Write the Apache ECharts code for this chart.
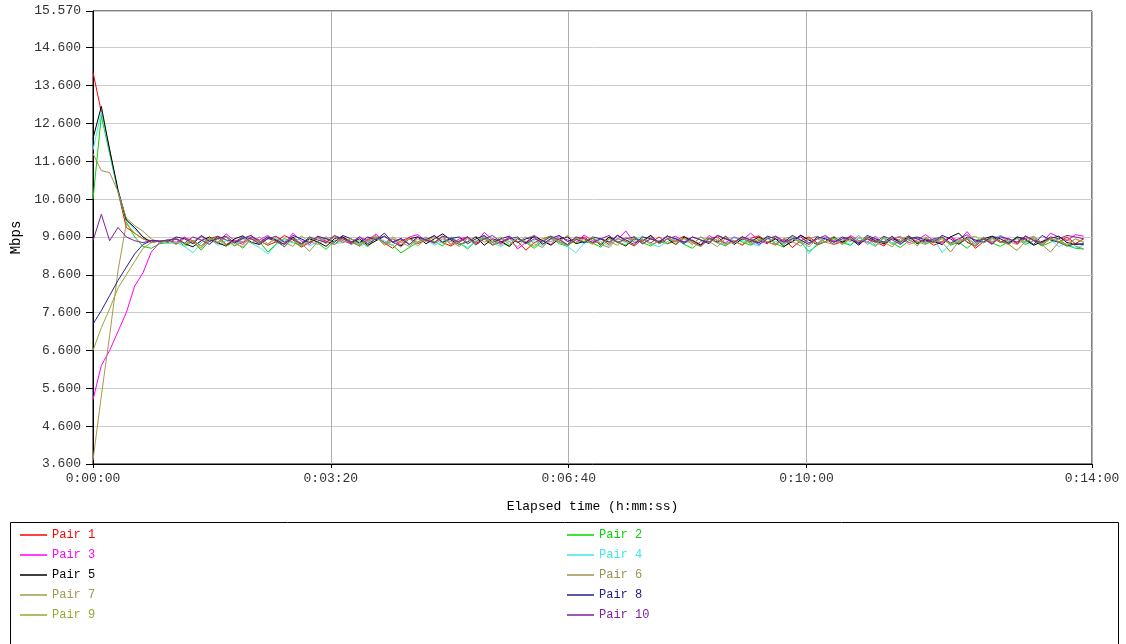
<!DOCTYPE html>
<html>
<head>
<meta charset="utf-8">
<script src="https://cdn.jsdelivr.net/npm/echarts@6/dist/echarts.min.js"></script>
<style>html,body{margin:0;padding:0;background:#fff;}#c{width:1126px;height:644px;}</style>
</head>
<body>
<div id="c"></div>
<script>
// sample step (seconds) of the throughput measurements
const sampleStep = 7;
const pairNames = ['Pair 1','Pair 2','Pair 3','Pair 4','Pair 5','Pair 6','Pair 7','Pair 8','Pair 9','Pair 10'];
const pairColors = ['#ff0000','#00d800','#ff00ff','#40e8e8','#000000','#a09050','#a89848','#202090','#98a830','#8020a0'];
const xTickValues = [0,200,400,600,840];

const pair1 = [13.95,12.9,11.9,10.8,9.85,9.7,9.55,9.5,9.48,9.52,
9.42,9.58,9.5,9.36,9.55,9.62,9.4,9.52,9.45,9.6,
9.5,9.38,9.47,9.64,9.52,9.33,9.45,9.58,9.49,9.4,
9.6,9.48,9.37,9.54,9.6,9.44,9.3,9.5,9.58,9.42,
9.52,9.63,9.45,9.36,9.5,9.6,9.43,9.55,9.38,9.47,
9.58,9.48,9.25,9.45,9.55,9.62,9.47,9.38,9.52,9.6,
9.44,9.55,9.4,9.65,9.48,9.36,9.54,9.44,9.6,9.42,
9.5,9.62,9.45,9.35,9.55,9.6,9.42,9.5,9.38,9.56,
9.63,9.46,9.4,9.55,9.32,9.5,9.6,9.44,9.55,9.4,
9.48,9.6,9.42,9.55,9.47,9.36,9.58,9.5,9.63,9.44,
9.52,9.38,9.48,9.6,9.42,9.55,9.3,9.48,9.58,9.45,
9.55,9.42,9.62,9.5,9.38,9.56,9.46,9.6,9.42,9.55];

const pair2 = [10.6,12.8,11.8,10.8,10.0,9.6,9.35,9.3,9.42,9.45,
9.55,9.35,9.48,9.25,9.5,9.6,9.38,9.47,9.3,9.55,
9.48,9.2,9.42,9.56,9.46,9.36,9.6,9.44,9.27,9.5,
9.56,9.4,9.5,9.34,9.58,9.45,9.38,9.18,9.32,9.46,
9.55,9.48,9.36,9.6,9.45,9.28,9.5,9.57,9.4,9.47,
9.36,9.55,9.45,9.3,9.5,9.6,9.42,9.35,9.55,9.46,
9.44,9.33,9.56,9.48,9.38,9.62,9.45,9.36,9.5,9.42,
9.56,9.4,9.3,9.48,9.58,9.45,9.36,9.6,9.46,9.38,
9.5,9.57,9.42,9.33,9.55,9.46,9.22,9.38,9.48,9.56,
9.45,9.38,9.58,9.47,9.35,9.6,9.44,9.32,9.5,9.57,
9.42,9.48,9.58,9.38,9.46,9.3,9.5,9.58,9.44,9.35,
9.48,9.56,9.4,9.5,9.36,9.46,9.55,9.38,9.3,9.28];

const pair3 = [5.3,6.2,6.6,7.1,7.6,8.3,8.65,9.2,9.45,9.5,
9.46,9.6,9.42,9.62,9.52,9.45,9.68,9.5,9.4,9.6,
9.52,9.64,9.46,9.42,9.7,9.5,9.4,9.6,9.46,9.62,
9.5,9.42,9.6,9.5,9.68,9.45,9.55,9.38,9.6,9.66,
9.5,9.44,9.62,9.4,9.55,9.6,9.45,9.72,9.52,9.42,
9.6,9.28,9.46,9.64,9.5,9.4,9.62,9.52,9.45,9.65,
9.5,9.42,9.6,9.52,9.76,9.45,9.5,9.64,9.44,9.55,
9.62,9.46,9.52,9.4,9.64,9.5,9.45,9.6,9.52,9.7,
9.5,9.42,9.62,9.5,9.46,9.65,9.52,9.4,9.6,9.5,
9.44,9.64,9.5,9.46,9.62,9.4,9.55,9.6,9.45,9.52,
9.66,9.5,9.44,9.6,9.5,9.74,9.46,9.55,9.4,9.64,
9.52,9.46,9.62,9.5,9.44,9.7,9.6,9.5,9.66,9.62];

const pair4 = [11.9,12.9,11.85,10.8,10.05,9.8,9.6,9.45,9.5,9.42,
9.46,9.35,9.18,9.45,9.55,9.38,9.5,9.36,9.55,9.44,
9.32,9.15,9.4,9.52,9.44,9.58,9.36,9.48,9.6,9.42,
9.45,9.56,9.35,9.44,9.6,9.5,9.38,9.56,9.42,9.46,
9.56,9.38,9.48,9.58,9.44,9.32,9.5,9.6,9.44,9.35,
9.48,9.58,9.42,9.5,9.36,9.55,9.46,9.35,9.18,9.44,
9.56,9.48,9.36,9.58,9.44,9.5,9.62,9.42,9.34,9.48,
9.58,9.44,9.5,9.38,9.56,9.45,9.4,9.58,9.5,9.44,
9.36,9.56,9.48,9.42,9.6,9.5,9.16,9.44,9.56,9.46,
9.5,9.4,9.58,9.47,9.36,9.56,9.44,9.5,9.6,9.42,
9.47,9.56,9.18,9.44,9.5,9.58,9.42,9.48,9.56,9.64,
9.48,9.58,9.42,9.6,9.46,9.55,9.34,9.45,9.3,9.38];

const pair5 = [12.2,13.05,11.9,10.85,10.05,9.85,9.6,9.45,9.5,9.47,
9.55,9.42,9.34,9.5,9.6,9.44,9.36,9.55,9.63,9.46,
9.4,9.56,9.5,9.34,9.6,9.42,9.55,9.47,9.35,9.55,
9.6,9.44,9.55,9.38,9.5,9.62,9.46,9.36,9.55,9.6,
9.42,9.55,9.68,9.52,9.4,9.47,9.6,9.38,9.55,9.48,
9.35,9.56,9.44,9.62,9.5,9.38,9.55,9.6,9.42,9.48,
9.56,9.38,9.6,9.46,9.36,9.55,9.48,9.64,9.42,9.55,
9.4,9.6,9.5,9.38,9.56,9.46,9.62,9.4,9.55,9.48,
9.6,9.44,9.55,9.35,9.48,9.64,9.52,9.4,9.48,9.6,
9.46,9.55,9.38,9.6,9.5,9.42,9.56,9.46,9.62,9.42,
9.55,9.48,9.4,9.6,9.7,9.46,9.36,9.55,9.62,9.48,
9.42,9.6,9.52,9.38,9.48,9.56,9.62,9.45,9.4,9.42];

const pair6 = [11.8,11.35,11.3,10.8,10.1,9.9,9.75,9.55,9.45,9.5,
9.4,9.56,9.46,9.3,9.55,9.42,9.6,9.36,9.48,9.56,
9.42,9.6,9.48,9.34,9.56,9.44,9.22,9.48,9.6,9.4,
9.55,9.46,9.36,9.56,9.64,9.42,9.48,9.33,9.55,9.46,
9.6,9.42,9.55,9.48,9.35,9.56,9.46,9.62,9.4,9.55,
9.48,9.34,9.56,9.64,9.42,9.48,9.56,9.38,9.6,9.46,
9.55,9.4,9.32,9.56,9.48,9.6,9.42,9.55,9.46,9.64,
9.4,9.56,9.48,9.35,9.56,9.44,9.6,9.48,9.4,9.55,
9.46,9.6,9.42,9.55,9.48,9.36,9.55,9.62,9.46,9.4,
9.55,9.48,9.64,9.4,9.55,9.46,9.34,9.56,9.6,9.48,
9.4,9.55,9.46,9.2,9.48,9.56,9.4,9.6,9.48,9.55,
9.4,9.24,9.48,9.56,9.4,9.2,9.46,9.55,9.36,9.28];

const pair7 = [3.7,5.4,7.0,8.7,9.95,9.7,9.55,9.45,9.5,9.47,
9.56,9.4,9.48,9.6,9.42,9.55,9.35,9.48,9.58,9.44,
9.6,9.42,9.55,9.46,9.35,9.63,9.48,9.4,9.56,9.6,
9.44,9.56,9.4,9.48,9.6,9.38,9.55,9.46,9.35,9.55,
9.48,9.6,9.44,9.56,9.4,9.48,9.62,9.46,9.55,9.38,
9.56,9.46,9.6,9.42,9.32,9.55,9.48,9.64,9.44,9.56,
9.4,9.56,9.48,9.38,9.6,9.46,9.55,9.4,9.48,9.62,
9.46,9.56,9.4,9.6,9.48,9.34,9.56,9.46,9.62,9.4,
9.55,9.48,9.38,9.56,9.6,9.44,9.56,9.4,9.48,9.55,
9.4,9.6,9.46,9.56,9.38,9.48,9.56,9.62,9.4,9.48,
9.55,9.44,9.6,9.4,9.56,9.48,9.36,9.56,9.46,9.6,
9.48,9.4,9.55,9.62,9.44,9.56,9.48,9.4,9.55,9.46];

const pair8 = [7.3,7.65,8.05,8.45,8.8,9.15,9.4,9.5,9.5,9.48,
9.6,9.55,9.42,9.64,9.48,9.56,9.62,9.44,9.56,9.64,
9.46,9.6,9.52,9.4,9.64,9.55,9.45,9.62,9.55,9.46,
9.64,9.55,9.44,9.6,9.52,9.7,9.46,9.56,9.4,9.6,
9.52,9.64,9.46,9.56,9.6,9.42,9.55,9.64,9.46,9.55,
9.62,9.45,9.55,9.6,9.4,9.56,9.64,9.48,9.55,9.44,
9.6,9.55,9.46,9.64,9.52,9.4,9.6,9.55,9.45,9.62,
9.55,9.46,9.6,9.52,9.42,9.64,9.55,9.46,9.6,9.52,
9.44,9.62,9.55,9.46,9.64,9.52,9.4,9.6,9.55,9.46,
9.6,9.52,9.44,9.64,9.55,9.46,9.62,9.42,9.55,9.6,
9.52,9.46,9.64,9.55,9.4,9.6,9.52,9.46,9.62,9.55,
9.44,9.6,9.55,9.4,9.64,9.52,9.46,9.36,9.42,9.4];

const pair9 = [6.6,7.2,7.7,8.25,8.6,8.95,9.3,9.45,9.5,9.46,
9.56,9.42,9.5,9.36,9.58,9.46,9.6,9.42,9.34,9.55,
9.48,9.4,9.6,9.46,9.55,9.36,9.48,9.58,9.42,9.6,
9.46,9.56,9.4,9.48,9.58,9.42,9.6,9.46,9.55,9.36,
9.55,9.46,9.6,9.4,9.48,9.56,9.38,9.55,9.46,9.6,
9.4,9.56,9.48,9.35,9.55,9.62,9.46,9.4,9.56,9.48,
9.6,9.42,9.55,9.46,9.38,9.56,9.48,9.6,9.42,9.55,
9.48,9.56,9.4,9.6,9.46,9.55,9.38,9.48,9.56,9.44,
9.55,9.46,9.6,9.4,9.56,9.48,9.34,9.55,9.46,9.62,
9.4,9.55,9.48,9.6,9.44,9.56,9.4,9.48,9.55,9.36,
9.6,9.46,9.55,9.4,9.48,9.56,9.62,9.44,9.55,9.48,
9.4,9.56,9.46,9.6,9.4,9.55,9.48,9.36,9.55,9.46];

const pair10 = [9.5,10.2,9.5,9.85,9.6,9.5,9.45,9.5,9.48,9.52,
9.55,9.44,9.6,9.52,9.4,9.62,9.52,9.46,9.6,9.55,
9.42,9.55,9.62,9.46,9.55,9.4,9.6,9.52,9.45,9.64,
9.55,9.46,9.6,9.42,9.55,9.62,9.46,9.55,9.4,9.6,
9.52,9.45,9.62,9.55,9.46,9.6,9.4,9.55,9.64,9.46,
9.55,9.6,9.42,9.55,9.46,9.62,9.52,9.4,9.6,9.55,
9.46,9.55,9.64,9.45,9.55,9.6,9.42,9.55,9.48,9.62,
9.55,9.42,9.6,9.52,9.46,9.64,9.55,9.45,9.6,9.52,
9.4,9.55,9.62,9.46,9.55,9.6,9.44,9.55,9.64,9.46,
9.55,9.6,9.42,9.55,9.46,9.62,9.52,9.4,9.6,9.55,
9.46,9.55,9.6,9.44,9.55,9.66,9.46,9.55,9.42,9.6,
9.55,9.46,9.62,9.52,9.44,9.6,9.55,9.64,9.6,9.55];

const pairValues = [pair1,pair2,pair3,pair4,pair5,pair6,pair7,pair8,pair9,pair10];

const FONT = "'Liberation Mono', 'DejaVu Sans Mono', monospace";

function fmtTime(s){
  s = Math.round(s);
  const h = Math.floor(s/3600), m = Math.floor((s%3600)/60), sec = s%60;
  return h + ':' + String(m).padStart(2,'0') + ':' + String(sec).padStart(2,'0');
}

const series = pairNames.map((name, i) => ({
  name: name,
  type: 'line',
  symbol: 'none',
  showSymbol: false,
  animation: false,
  lineStyle: {width: 1, color: pairColors[i]},
  itemStyle: {color: pairColors[i]},
  data: pairValues[i].map((v, k) => [k * sampleStep, v])
}));

function legendData(idxs){
  return idxs.map(i => ({name: pairNames[i], textStyle: {color: pairColors[i]}}));
}

const legendCommon = {
  orient: 'vertical',
  icon: 'rect',
  itemWidth: 27,
  itemHeight: 1.5,
  itemGap: 0,
  selectedMode: false,
  textStyle: {fontFamily: FONT, fontSize: 12, lineHeight: 20, padding: [0,0,0,0]},
  padding: 0
};

const chart = echarts.init(document.getElementById('c'), null, {renderer: 'canvas'});
chart.setOption({
  backgroundColor: '#ffffff',
  animation: false,
  grid: {left: 93, right: 34, top: 11, bottom: 180, show: true, borderColor: '#000', borderWidth: 1, containLabel: false},
  xAxis: {
    type: 'value', min: 0, max: 840,
    name: 'Elapsed time (h:mm:ss)', nameLocation: 'middle', nameGap: 36,
    nameTextStyle: {fontFamily: FONT, fontSize: 13, color: '#000'},
    axisLine: {show: true, lineStyle: {color: '#000', width: 1}},
    axisTick: {show: true, length: 4, customValues: xTickValues, lineStyle: {color: '#000'}},
    axisLabel: {customValues: xTickValues, fontFamily: FONT, fontSize: 13, color: '#333', margin: 8, formatter: v => fmtTime(v), showMaxLabel: true},
    splitLine: {show: true, lineStyle: {color: '#b0b0b0', width: 1}}
  },
  yAxis: {
    type: 'value', min: 3.6, max: 15.57, interval: 1,
    name: 'Mbps', nameLocation: 'middle', nameGap: 70, nameRotate: 90,
    nameTextStyle: {fontFamily: FONT, fontSize: 14, color: '#000'},
    axisLine: {show: true, lineStyle: {color: '#000', width: 1}},
    axisTick: {show: true, length: 7, lineStyle: {color: '#000'}},
    axisLabel: {fontFamily: FONT, fontSize: 13, color: '#333', margin: 12, formatter: v => v.toFixed(3), showMaxLabel: true, showMinLabel: true},
    splitLine: {show: true, lineStyle: {color: '#cccccc', width: 1}}
  },
  legend: [
    Object.assign({}, legendCommon, {left: 20, top: 525, data: legendData([0,2,4,6,8])}),
    Object.assign({}, legendCommon, {left: 567, top: 525, data: legendData([1,3,5,7,9])})
  ],
  graphic: [{
    type: 'rect', left: 10, top: 522, z: -1, silent: true,
    shape: {width: 1108, height: 140},
    style: {fill: '#fff', stroke: '#000', lineWidth: 1}
  }],
  series: series
});
</script>
</body>
</html>
